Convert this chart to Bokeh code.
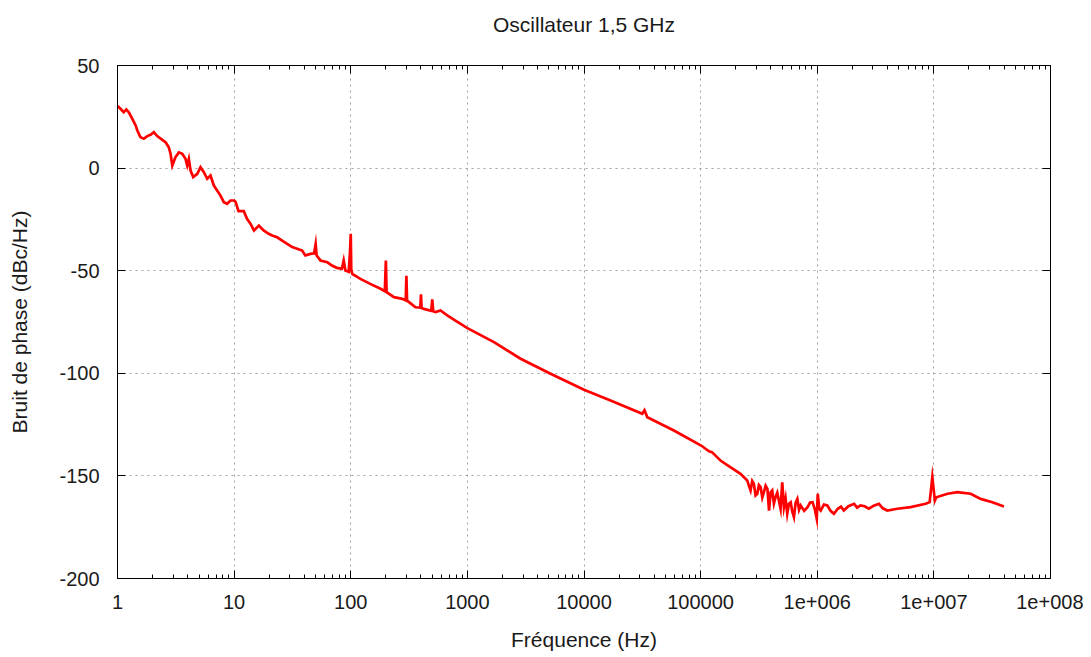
from bokeh.plotting import figure
from bokeh.models import FixedTicker, LogAxis, LinearAxis, ColumnDataSource, CustomJSTickFormatter
from bokeh.embed import file_html
from bokeh.resources import INLINE

# ---- data ----
freq_hz = [
    1.0, 1.06, 1.13, 1.19, 1.25, 1.34, 1.43, 1.48, 1.57, 1.68, 1.80, 1.92, 2.05, 2.19, 2.41,
    2.58, 2.75, 2.85, 2.95, 3.14, 3.36, 3.59, 3.83, 3.96, 4.09, 4.23, 4.46, 4.83, 5.15, 5.50,
    5.88, 6.27, 6.70, 7.15, 7.64, 8.16, 8.71, 9.31, 10.0, 10.3, 10.9, 12.1, 12.9, 13.8, 14.8,
    16.3, 17.9, 19.8, 21.2, 23.4, 25.8, 28.5, 31.5, 34.7, 38.3, 40.8, 45.1, 48.5, 50.0, 51.0,
    55.0, 63.0, 69.0, 76.0, 84.0, 87.0, 90.0, 96.0, 98.5, 100.0, 101.0, 103.0, 121.0, 147.0,
    180.0, 196.0, 200.0, 203.0, 235.0, 277.0, 296.0, 300.0, 304.0, 316.0, 359.0, 395.0, 400.0,
    405.0, 423.0, 490.0, 500.0, 510.0, 533.0, 588.0, 672.0, 790.0, 1000.0, 1690.0, 2860.0,
    5170.0, 10000.0, 16900.0, 31600.0, 33000.0, 34900.0, 59000.0, 101000.0, 118000.0,
    125000.0, 148000.0, 181000.0, 220000.0, 251000.0, 260000.0, 268000.0, 277000.0, 286000.0,
    296000.0, 306000.0, 316000.0, 327000.0, 338000.0, 349000.0, 361000.0, 374000.0, 386000.0,
    398000.0, 411000.0, 425000.0, 439000.0, 454000.0, 469000.0, 485000.0, 501000.0, 518000.0,
    535000.0, 553000.0, 572000.0, 592000.0, 611000.0, 631000.0, 653000.0, 675000.0, 698000.0,
    721000.0, 772000.0, 826000.0, 868000.0, 912000.0, 955000.0, 990000.0, 1010000.0,
    1040000.0, 1070000.0, 1140000.0, 1220000.0, 1300000.0, 1390000.0, 1500000.0, 1600000.0,
    1690000.0, 1850000.0, 2070000.0, 2200000.0, 2350000.0, 2550000.0, 2770000.0, 3050000.0,
    3380000.0, 3650000.0, 3990000.0, 4860000.0, 6320000.0, 8500000.0, 9200000.0, 9700000.0,
    10200000.0, 10500000.0, 13100000.0, 15900000.0, 20700000.0, 25200000.0, 31700000.0,
    39900000.0,
]
noise_dbc = [
    30.3, 28.9, 27.2, 28.6, 27.2, 24.0, 20.8, 18.3, 15.1, 14.3, 15.6, 16.2, 17.5, 15.6, 13.9,
    12.6, 10.2, 7.0, 1.3, 5.3, 7.7, 7.0, 4.5, 1.3, 4.5, -1.2, -4.4, -2.8, 0.4, -2.0,
    -5.2, -3.6, -8.5, -10.9, -13.4, -16.6, -17.4, -15.8, -15.8, -16.5, -21.0, -21.0, -24.7, -27.1, -30.4,
    -28.0, -30.4, -32.0, -32.8, -33.7, -35.3, -36.9, -38.5, -39.3, -40.2, -42.6, -41.8, -41.5, -37.0, -42.6,
    -45.0, -45.9, -47.5, -48.6, -49.0, -45.0, -49.9, -50.5, -41.0, -32.0, -49.5, -51.5, -54.0, -56.4,
    -58.8, -60.0, -45.0, -60.5, -62.9, -63.7, -64.5, -52.5, -64.5, -65.3, -67.8, -68.0, -61.5,
    -68.2, -68.6, -69.5, -64.0, -69.8, -70.2, -69.4, -71.8, -74.3, -78.0, -84.8, -92.9,
    -100.2, -108.0, -113.3, -119.7, -118.0, -121.4, -127.9, -135.2, -138.0,
    -138.4, -142.5, -145.8, -149.0, -152.2, -155.0, -157.1, -152.5, -153.8,
    -159.5, -158.7, -154.5, -155.5, -160.5, -157.9, -154.8, -156.3, -166.9,
    -158.0, -157.1, -163.5, -160.4, -158.2, -162.0, -166.0, -153.1, -165.2,
    -161.0, -168.5, -163.5, -162.8, -167.5, -170.1, -163.0, -161.2, -166.5,
    -164.4, -167.0, -165.2, -163.0, -162.8, -166.5, -170.9, -158.7,
    -166.0, -166.9, -164.0, -164.4, -167.0, -168.5, -166.0, -165.0,
    -166.9, -164.8, -163.6, -165.5, -164.4, -164.8, -166.0, -164.5,
    -163.6, -165.8, -166.9, -166.0, -165.2, -163.6, -162.8, -150.6,
    -162.0, -160.4, -158.7, -157.9, -158.7, -161.2, -162.8,
    -164.9,
]

x_major = [1, 10, 100, 1000, 10000, 100000, 1e6, 1e7, 1e8]
x_labels = ["1", "10", "100", "1000", "10000", "100000", "1e+006", "1e+007", "1e+008"]
y_major = [-200, -150, -100, -50, 0, 50]
y_labels = ["-200", "-150", "-100", "-50", "0", "50"]

title_text = "Oscillateur 1,5 GHz"
x_title = "Fréquence (Hz)"
y_title = "Bruit de phase (dBc/Hz)"

FONT = "Liberation Sans"

x_minor = [m * d for d in x_major[:-1] for m in range(2, 10)]

p = figure(
    width=1083, height=648,
    frame_width=933, frame_height=513,
    x_axis_type="log", x_range=(1, 1e8), y_range=(-200, 50),
    output_backend="svg", toolbar_location=None,
    min_border_left=117, min_border_right=33, min_border_top=65, min_border_bottom=70,
    title=title_text + "\n",
)
p.background_fill_color = "white"
p.border_fill_color = "white"
p.outline_line_color = "black"
p.outline_line_width = 1

p.title.align = "center"
p.title.text_font = FONT
p.title.text_font_size = "21px"
p.title.text_font_style = "normal"
p.title.text_color = "#1a1a1a"
p.title.standoff = 14

xt = FixedTicker(ticks=x_major, minor_ticks=x_minor)
yt = FixedTicker(ticks=y_major)

def style_axis(ax, show_labels):
    ax.major_tick_in = 8
    ax.major_tick_out = 0
    ax.minor_tick_in = 4
    ax.minor_tick_out = 0
    ax.axis_line_color = "black"
    ax.major_tick_line_color = "black"
    ax.minor_tick_line_color = "black"
    if show_labels:
        ax.major_label_text_font = FONT
        ax.major_label_text_font_size = "20px"
        ax.major_label_text_color = "#1a1a1a"
        ax.axis_label_text_font = FONT
        ax.axis_label_text_font_size = "21px"
        ax.axis_label_text_font_style = "normal"
        ax.axis_label_text_color = "#1a1a1a"

xa = p.xaxis[0]
xa.ticker = xt
xa.major_label_overrides = {v: s for v, s in zip(x_major, x_labels)}
xa.axis_label = x_title
style_axis(xa, True)
xa.major_label_standoff = 16
xa.axis_label_standoff = 16

ya = p.yaxis[0]
ya.ticker = yt
ya.major_label_overrides = {v: s for v, s in zip(y_major, y_labels)}
ya.axis_label = y_title
ya.minor_tick_in = 0
style_axis(ya, True)
ya.major_label_standoff = 18
ya.axis_label_standoff = 25

blank = CustomJSTickFormatter(code="return '';")
top = LogAxis(ticker=xt, formatter=blank, major_label_text_font_size="1px", major_label_standoff=0)
style_axis(top, False)
p.add_layout(top, "above")
right = LinearAxis(ticker=yt, formatter=blank, major_label_text_font_size="1px", major_label_standoff=0)
style_axis(right, False)
right.minor_tick_in = 0
p.add_layout(right, "right")

p.xgrid.ticker = xt
p.ygrid.ticker = yt
for g in (p.xgrid[0], p.ygrid[0]):
    g.grid_line_color = "#a0a0a0"
    g.grid_line_dash = "2 4"
    g.grid_line_width = 1
p.xgrid.minor_grid_line_color = None

src = ColumnDataSource(dict(f=freq_hz, v=noise_dbc))
p.line("f", "v", source=src, line_color="#ff0000", line_width=2.7, line_join="miter")

open("out.html", "w").write(file_html(p, INLINE))
